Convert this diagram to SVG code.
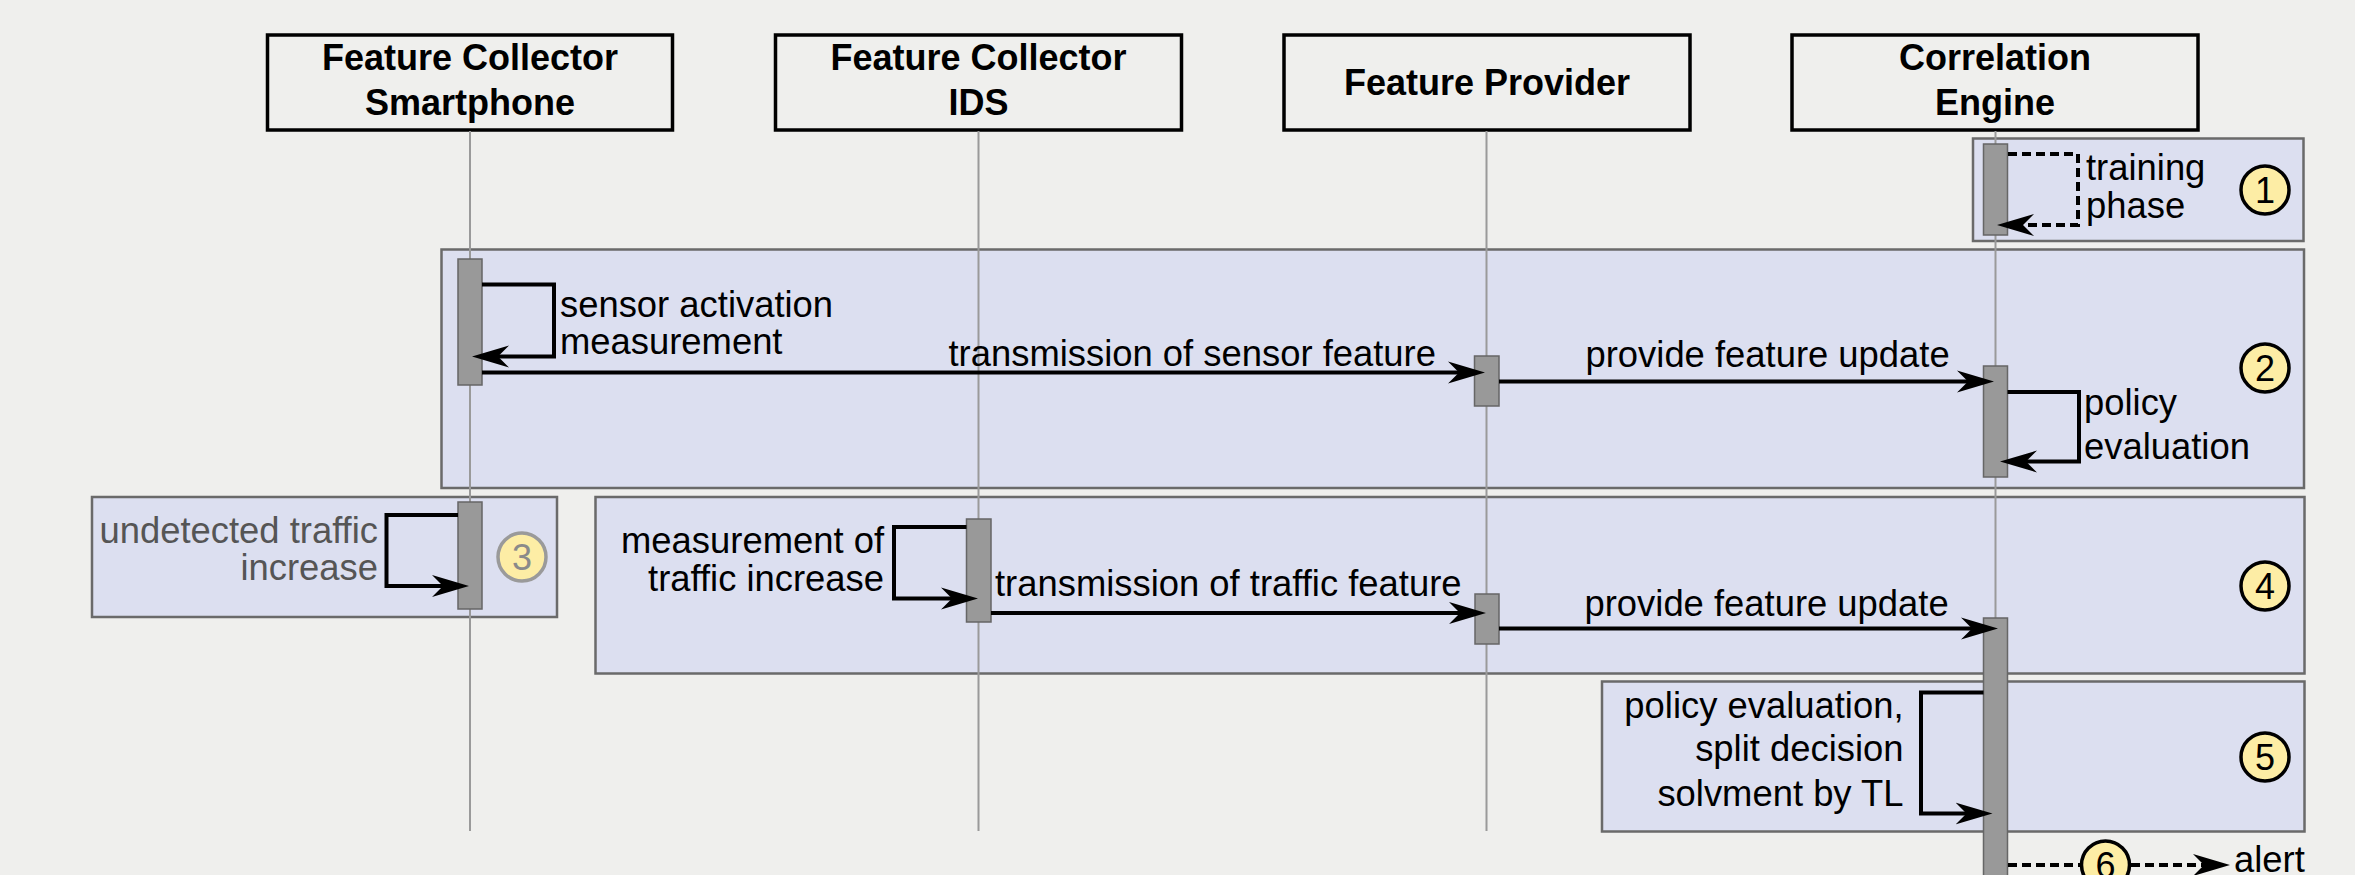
<svg xmlns="http://www.w3.org/2000/svg" width="2355" height="875" viewBox="0 0 2355 875">
  <style>
    .bg { fill: #efefed; }
    .head { fill: #efefed; stroke: #000; stroke-width: 3.5; }
    .head-t { font-family: "Liberation Sans", Arial, sans-serif; font-weight: bold; font-size: 36px; fill: #000; text-anchor: middle; }
    .grp { fill: #dcdff0; stroke: #6a6a6a; stroke-width: 2.5; }
    .life { stroke: #9a9a9a; stroke-width: 2; fill: none; }
    .bar { fill: #999999; stroke: #666; stroke-width: 1.5; }
    .msg { fill: none; stroke: #000; stroke-width: 4; }
    .dash { stroke-dasharray: 9 5; }
    .lbl { font-family: "Liberation Sans", Arial, sans-serif; font-size: 36.4px; fill: #000; }
    .end { text-anchor: end; }
    .muted { fill: #555; }
    .step { fill: #fdeda5; stroke: #000; stroke-width: 3.5; }
    .step-t { font-family: "Liberation Sans", Arial, sans-serif; font-size: 36px; fill: #000; text-anchor: middle; }
  </style>
  <defs>
    <marker id="ah" viewBox="0 0 37 24" refX="14" refY="12" markerWidth="37" markerHeight="24" markerUnits="userSpaceOnUse" orient="auto">
      <path d="M37,12 L0,1 L11,12 L0,23 Z" fill="#000"/>
    </marker>
  </defs>

  <rect class="bg" x="0" y="0" width="2355" height="875"/>

  <!-- phase frames -->
  <g id="frames">
    <rect id="frame-1" class="grp" x="1973" y="138.5" width="330.5" height="102.5"/>
    <rect id="frame-2" class="grp" x="441.5" y="249.5" width="1862.5" height="238.5"/>
    <rect id="frame-3" class="grp" x="92" y="497" width="465" height="120"/>
    <rect id="frame-4" class="grp" x="595.5" y="497" width="1709" height="176.5"/>
    <rect id="frame-5" class="grp" x="1602" y="681.5" width="702.5" height="150"/>
  </g>

  <!-- participants -->
  <g id="smartphone">
    <rect class="head" x="267.5" y="35" width="405" height="95"/>
    <text class="head-t" x="470" y="70">Feature Collector</text>
    <text class="head-t" x="470" y="115">Smartphone</text>
    <line class="life" x1="470" y1="131" x2="470" y2="831"/>
  </g>
  <g id="ids">
    <rect class="head" x="775.5" y="35" width="406" height="95"/>
    <text class="head-t" x="978.5" y="70">Feature Collector</text>
    <text class="head-t" x="978.5" y="115">IDS</text>
    <line class="life" x1="978.5" y1="131" x2="978.5" y2="831"/>
  </g>
  <g id="provider">
    <rect class="head" x="1284" y="35" width="406" height="95"/>
    <text class="head-t" x="1487" y="95">Feature Provider</text>
    <line class="life" x1="1486.5" y1="131" x2="1486.5" y2="831"/>
  </g>
  <g id="engine">
    <rect class="head" x="1792" y="35" width="406" height="95"/>
    <text class="head-t" x="1995" y="70">Correlation</text>
    <text class="head-t" x="1995" y="115">Engine</text>
    <line class="life" x1="1995.5" y1="131" x2="1995.5" y2="831"/>
  </g>

  <!-- activations -->
  <g id="activations">
    <rect class="bar" x="1983.5" y="144" width="24" height="91"/>
    <rect class="bar" x="458" y="259" width="24" height="126"/>
    <rect class="bar" x="1474.5" y="356" width="24.5" height="50"/>
    <rect class="bar" x="1983.5" y="366" width="24" height="111"/>
    <rect class="bar" x="458" y="502" width="24" height="107"/>
    <rect class="bar" x="966.5" y="519" width="24.5" height="103"/>
    <rect class="bar" x="1475" y="594" width="24" height="50"/>
    <rect class="bar" x="1983.5" y="618" width="24" height="270"/>
  </g>

  <!-- messages -->
  <g id="connectors">
    <path class="msg dash" d="M2008,154 H2078 V225 H2020" marker-end="url(#ah)"/>
    <path class="msg" d="M482,284.5 H554 V356.5 H495" marker-end="url(#ah)"/>
    <path class="msg" d="M482,372.5 H1462" marker-end="url(#ah)"/>
    <path class="msg" d="M1499,381.5 H1971" marker-end="url(#ah)"/>
    <path class="msg" d="M2007.5,392 H2079 V461.5 H2023" marker-end="url(#ah)"/>
    <path class="msg" d="M458,515 H386.5 V586 H446" marker-end="url(#ah)"/>
    <path class="msg" d="M966.5,527 H894 V598.5 H955" marker-end="url(#ah)"/>
    <path class="msg" d="M991,613 H1463" marker-end="url(#ah)"/>
    <path class="msg" d="M1499,628.5 H1975" marker-end="url(#ah)"/>
    <path class="msg" d="M1983.5,692.5 H1921 V813.5 H1969.5" marker-end="url(#ah)"/>
    <path class="msg dash" d="M2008,865 H2081"/>
    <path class="msg dash" d="M2131,865 H2207" marker-end="url(#ah)"/>
  </g>

  <!-- message labels -->
  <g id="labels">
    <text class="lbl" x="2086" y="180">training</text>
    <text class="lbl" x="2086" y="218">phase</text>
    <text class="lbl" x="560" y="317">sensor activation</text>
    <text class="lbl" x="560" y="354">measurement</text>
    <text class="lbl" x="948.5" y="366">transmission of sensor feature</text>
    <text class="lbl" x="1585.5" y="367">provide feature update</text>
    <text class="lbl" x="2084" y="415">policy</text>
    <text class="lbl" x="2084" y="459">evaluation</text>
    <text class="lbl end muted" x="378" y="543">undetected traffic</text>
    <text class="lbl end muted" x="378" y="580">increase</text>
    <text class="lbl end" x="884" y="553">measurement of</text>
    <text class="lbl end" x="884" y="591">traffic increase</text>
    <text class="lbl" x="995" y="596">transmission of traffic feature</text>
    <text class="lbl" x="1584.5" y="616">provide feature update</text>
    <text class="lbl end" x="1903.5" y="718">policy evaluation,</text>
    <text class="lbl end" x="1903.5" y="761">split decision</text>
    <text class="lbl end" x="1903.5" y="806">solvment by TL</text>
    <text class="lbl" x="2234" y="872">alert</text>
  </g>

  <!-- step markers -->
  <g id="step-1"><circle class="step" cx="2265" cy="190" r="24"/><text class="step-t" x="2265" y="203">1</text></g>
  <g id="step-2"><circle class="step" cx="2265" cy="368" r="24"/><text class="step-t" x="2265" y="381">2</text></g>
  <g id="step-3"><circle class="step" cx="522" cy="557" r="24" style="stroke:#9a9a9a"/><text class="step-t" x="522" y="570" style="fill:#8a8a8a">3</text></g>
  <g id="step-4"><circle class="step" cx="2265" cy="586" r="24"/><text class="step-t" x="2265" y="599">4</text></g>
  <g id="step-5"><circle class="step" cx="2265" cy="757" r="24"/><text class="step-t" x="2265" y="770">5</text></g>
  <g id="step-6"><circle class="step" cx="2105.5" cy="865" r="24"/><text class="step-t" x="2105.5" y="878">6</text></g>
</svg>
